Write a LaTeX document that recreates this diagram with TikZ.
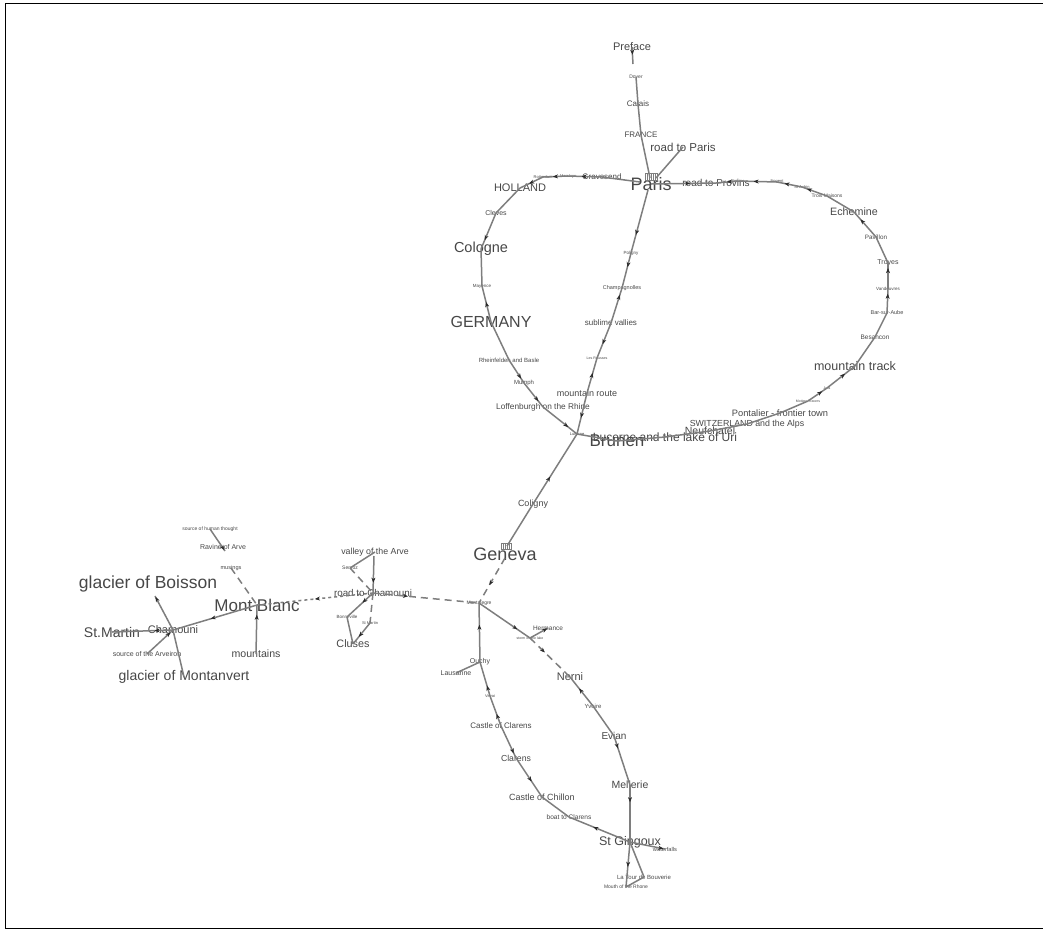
\documentclass[tikz,border=0pt]{standalone}
\usepackage{fontspec}
\setmainfont{Liberation Sans}
\usetikzlibrary{arrows.meta,decorations.markings}
\definecolor{lg}{HTML}{7E7E7E}
\definecolor{tx}{HTML}{474747}
\definecolor{ah}{HTML}{2A2A2A}
\newcommand\fsz[1]{\fontsize{#1}{#1}\selectfont}
\tikzset{
  lab/.style={inner sep=0pt, text=tx, font=\fsz{#1}},
  edge/.style={draw=lg, line width=1.5pt},
  dsh/.style={dash pattern=on 7pt off 5pt},
  dts/.style={dash pattern=on 3pt off 3pt},
  arrat/.style={postaction={decorate}, decoration={markings,
    mark=at position #1 with {\arrow[ah,line width=0.4pt]{Stealth[length=5pt,width=4pt]}}}},
}
\begin{document}
\begin{tikzpicture}[x=1pt,y=-1pt]
\useasboundingbox (0,0) rectangle (1043,930);
\draw[black, line width=0.8pt] (1043,3) -- (5,3) -- (5,928) -- (1043,928);
% ---------- nodes ----------
\node[lab=11] (preface) at (632,47) {Preface};
\node[lab=6] (dot) at (633,64) {.};
\node[lab=5] (dover) at (636,77) {Dover};
\node[lab=8] (calais) at (638,104) {Calais};
\node[lab=8] (france) at (641,135) {FRANCE};
\node[lab=11.5] (roadparis) at (683,147) {road to Paris};
\node[lab=18] (paris) at (651,184) {Paris};
\node[lab=8] (gravesend) at (602,177) {Gravesend};
\node[lab=4] (marsluys) at (568,176) {Marsluys};
\node[lab=4] (rotterdam) at (543,177) {Rotterdam};
\node[lab=11] (holland) at (520,188) {HOLLAND};
\node[lab=7] (cleves) at (496,213) {Cleves};
\node[lab=14.5] (cologne) at (481,249) {Cologne};
\node[lab=4.5] (mayence) at (482,286) {Mayence};
\node[lab=16] (germany) at (491,322) {GERMANY};
\node[lab=6] (rheinfelden) at (509,360) {Rheinfelden and Basle};
\node[lab=6] (mumph) at (524,383) {Mumph};
\node[lab=8.3] (loffenburgh) at (543,407) {Loffenburgh on the Rhine};
\node[lab=4] (lucerne) at (577,434) {Lucerne};
\node[lab=17] (brunen) at (617,441) {Brunen};
\node[lab=12] (lucernelake) at (665,437) {Lucerne and the lake of Uri};
\node[lab=10.5] (neufchatel) at (710,431) {Neufchatel};
\node[lab=8.8] (switz) at (747,424) {SWITZERLAND and the Alps};
\node[lab=9.3] (pontalier) at (780,413) {Pontalier - frontier town};
\node[lab=3.5] (motiers) at (808,401) {Motiers Travers};
\node[lab=3.5] (jura) at (827,388) {Jura};
\node[lab=12.5] (mtrack) at (855,366) {mountain track};
\node[lab=6.5] (besancon) at (875,337) {Besancon};
\node[lab=5.5] (barsur) at (887,313) {Bar-sur-Aube};
\node[lab=4.5] (vandeuvres) at (888,289) {Vandeuvres};
\node[lab=7] (troyes) at (888,263) {Troyes};
\node[lab=6.3] (pavillon) at (876,237) {Pavillon};
\node[lab=10.7] (echemine) at (854,212) {Echemine};
\node[lab=5] (troismaisons) at (827,196) {Trois Maisons};
\node[lab=4] (staubin) at (802,187) {St Aubin};
\node[lab=4] (nogent) at (777,182) {Nogent};
\node[lab=4] (provins) at (738,181) {Provins};
\node[lab=10] (roadprovins) at (716,183) {road to Provins};
\node[lab=4.5] (poligny) at (631,253) {Poligny};
\node[lab=5.5] (champagnolles) at (622,288) {Champagnolles};
\node[lab=8] (sublime) at (611,323) {sublime vallies};
\node[lab=3.6] (lesrousses) at (597,358) {Les Rousses};
\node[lab=9] (mtroute) at (587,393) {mountain route};
\node[lab=9] (coligny) at (533,504) {Coligny};
\node[lab=18] (geneva) at (505,554) {Geneva};
\node[lab=5] (montalegre) at (479,603) {Montalegre};
\node[lab=6.5] (hermance) at (548,628) {Hermance};
\node[lab=3.5] (storm) at (530,638) {storm on the lake};
\node[lab=11] (nerni) at (570,677) {Nerni};
\node[lab=6] (yvoire) at (593,706) {Yvoire};
\node[lab=10] (evian) at (614,736) {Evian};
\node[lab=10.5] (mellerie) at (630,785) {Mellerie};
\node[lab=12.5] (stgingoux) at (630,842) {St Gingoux};
\node[lab=5.7] (waterfalls) at (665,849) {waterfalls};
\node[lab=6] (latour) at (644,877) {La Tour de Bouverie};
\node[lab=5] (mouth) at (626,887) {Mouth of the Rhone};
\node[lab=7] (ouchy) at (480,662) {Ouchy};
\node[lab=7] (lausanne) at (456,673) {Lausanne};
\node[lab=4] (vevai) at (490,696) {Vevai};
\node[lab=8] (cclarens) at (501,726) {Castle of Clarens};
\node[lab=8.7] (clarens) at (516,758) {Clarens};
\node[lab=9] (cchillon) at (542,797) {Castle of Chillon};
\node[lab=6.6] (boat) at (569,817) {boat to Clarens};
\node[lab=8.8] (valley) at (375,552) {valley of the Arve};
\node[lab=5] (servoz) at (350,568) {Servoz};
\node[lab=9.8] (roadcham) at (373,593) {road to Chamouni};
\node[lab=4.5] (bonneville) at (347,617) {Bonneville};
\node[lab=4] (stmartinsm) at (370,623) {St Martin};
\node[lab=10.8] (cluses) at (353,644) {Cluses};
\node[lab=5] (sourcehuman) at (210,529) {source of human thought};
\node[lab=7] (ravine) at (223,547) {Ravine of Arve};
\node[lab=5.6] (musings) at (231,568) {musings};
\node[lab=17] (montblanc) at (257,605) {Mont Blanc};
\node[lab=17.5] (boisson) at (148,584) {glacier of Boisson};
\node[lab=11] (chamouni) at (173,630) {Chamouni};
\node[lab=14] (stmartin) at (112,632) {St.Martin};
\node[lab=7] (arveiron) at (147,654) {source of the Arveiron};
\node[lab=10.6] (mountains) at (256,654) {mountains};
\node[lab=14] (montanvert) at (184,677) {glacier of Montanvert};
% ---------- hatched markers ----------
\foreach \i in {0,...,6} \draw[lg, line width=0.4pt] (645+2*\i,173) -- ++(0,7);
\draw[lg, line width=0.4pt] (645,173) rectangle (657,180);
\foreach \i in {0,...,5} \draw[lg, line width=0.4pt] (501+2*\i,543) -- ++(0,6);
\draw[lg, line width=0.4pt] (501,543) rectangle (511,549);
% ---------- edges ----------
\draw[edge, arrat=0.45] (preface.center) -- (dot.center);
\draw[edge] (dover.center) -- (calais.center);
\draw[edge] (calais.center) -- (france.center);
\draw[edge] (france.center) -- (650,178);
\draw[edge] (roadparis.center) -- (656,178);
\draw[edge] (gravesend.center) -- (640,182);
\draw[edge, arrat=0.6] (gravesend.center) -- (marsluys.center);
\draw[edge, arrat=0.6] (marsluys.center) -- (rotterdam.center);
\draw[edge, arrat=0.6] (rotterdam.center) -- (holland.center);
\draw[edge] (holland.center) -- (cleves.center);
\draw[edge, arrat=0.75] (cleves.center) -- (cologne.center);
\draw[edge] (cologne.center) -- (mayence.center);
\draw[edge, arrat=0.55] (germany.center) -- (mayence.center);
\draw[edge] (germany.center) -- (rheinfelden.center);
\draw[edge, arrat=0.8] (rheinfelden.center) -- (mumph.center);
\draw[edge, arrat=0.75] (mumph.center) -- (loffenburgh.center);
\draw[edge, arrat=0.74] (loffenburgh.center) -- (lucerne.center);
\draw[edge] (lucerne.center) -- (brunen.center);
\draw[edge] (brunen.center) -- (lucernelake.center);
\draw[edge] (lucernelake.center) -- (neufchatel.center);
\draw[edge] (neufchatel.center) -- (switz.center);
\draw[edge] (switz.center) -- (pontalier.center);
\draw[edge] (pontalier.center) -- (motiers.center);
\draw[edge, arrat=0.74] (motiers.center) -- (jura.center);
\draw[edge, arrat=0.64] (jura.center) -- (mtrack.center);
\draw[edge] (mtrack.center) -- (besancon.center);
\draw[edge] (besancon.center) -- (barsur.center);
\draw[edge, arrat=0.8] (barsur.center) -- (vandeuvres.center);
\draw[edge, arrat=0.8] (vandeuvres.center) -- (troyes.center);
\draw[edge] (troyes.center) -- (pavillon.center);
\draw[edge, arrat=0.7] (pavillon.center) -- (echemine.center);
\draw[edge] (echemine.center) -- (troismaisons.center);
\draw[edge, arrat=0.8] (troismaisons.center) -- (staubin.center);
\draw[edge, arrat=0.7] (staubin.center) -- (nogent.center);
\draw[edge, arrat=0.6] (nogent.center) -- (provins.center);
\draw[edge, arrat=0.5] (provins.center) -- (roadprovins.center);
\draw[edge, arrat=0.6] (paris.center) -- (roadprovins.center);
\draw[edge, arrat=0.71] (648,190) -- (poligny.center);
\draw[edge, arrat=0.4] (poligny.center) -- (champagnolles.center);
\draw[edge, arrat=0.8] (sublime.center) -- (champagnolles.center);
\draw[edge, arrat=0.6] (sublime.center) -- (lesrousses.center);
\draw[edge, arrat=0.57] (mtroute.center) -- (lesrousses.center);
\draw[edge, arrat=0.6] (mtroute.center) -- (lucerne.center);
\draw[edge, arrat=0.39] (coligny.center) -- (lucerne.center);
\draw[edge] (507,546) -- (coligny.center);
\draw[edge, dsh, arrat=0.6] (505,558) -- (montalegre.center);
\draw[edge, dsh, arrat=0.33] (roadcham.center) -- (montalegre.center);
\draw[edge, dts, arrat=0.5] (roadcham.center) -- (montblanc.center);
\draw[edge] (valley.center) -- (servoz.center);
\draw[edge, dsh] (servoz.center) -- (roadcham.center);
\draw[edge, arrat=0.72] (374,556) -- (roadcham.center);
\draw[edge, arrat=0.4] (roadcham.center) -- (bonneville.center);
\draw[edge, dsh] (roadcham.center) -- (stmartinsm.center);
\draw[edge] (bonneville.center) -- (cluses.center);
\draw[edge, arrat=0.65] (stmartinsm.center) -- (cluses.center);
\draw[edge, arrat=0.95] (sourcehuman.center) -- (225,551);
\draw[edge, dsh] (musings.center) -- (montblanc.center);
\draw[edge, arrat=0.55] (montblanc.center) -- (chamouni.center);
\draw[edge, arrat=0.97] (chamouni.center) -- (155,596);
\draw[edge, arrat=0.3] (chamouni.center) -- (stmartin.center);
\draw[edge, arrat=0.9] (arveiron.center) -- (chamouni.center);
\draw[edge] (chamouni.center) -- (montanvert.center);
\draw[edge, arrat=0.8] (mountains.center) -- (montblanc.center);
\draw[edge, arrat=0.75] (montalegre.center) -- (storm.center);
\draw[edge, arrat=0.95] (storm.center) -- (hermance.center);
\draw[edge, dsh, arrat=0.37] (storm.center) -- (nerni.center);
\draw[edge, arrat=0.6] (yvoire.center) -- (nerni.center);
\draw[edge] (yvoire.center) -- (evian.center);
\draw[edge, arrat=0.25] (evian.center) -- (mellerie.center);
\draw[edge, arrat=0.3] (mellerie.center) -- (stgingoux.center);
\draw[edge, arrat=0.95] (stgingoux.center) -- (waterfalls.center);
\draw[edge, arrat=0.55] (stgingoux.center) -- (mouth.center);
\draw[edge] (stgingoux.center) -- (latour.center);
\draw[edge] (latour.center) -- (mouth.center);
\draw[edge, arrat=0.6] (stgingoux.center) -- (boat.center);
\draw[edge] (boat.center) -- (cchillon.center);
\draw[edge, arrat=0.6] (clarens.center) -- (cchillon.center);
\draw[edge, arrat=0.85] (cclarens.center) -- (clarens.center);
\draw[edge, arrat=0.4] (cclarens.center) -- (vevai.center);
\draw[edge, arrat=0.3] (vevai.center) -- (ouchy.center);
\draw[edge, arrat=0.63] (ouchy.center) -- (montalegre.center);
\draw[edge] (ouchy.center) -- (lausanne.center);
\end{tikzpicture}
\end{document}
